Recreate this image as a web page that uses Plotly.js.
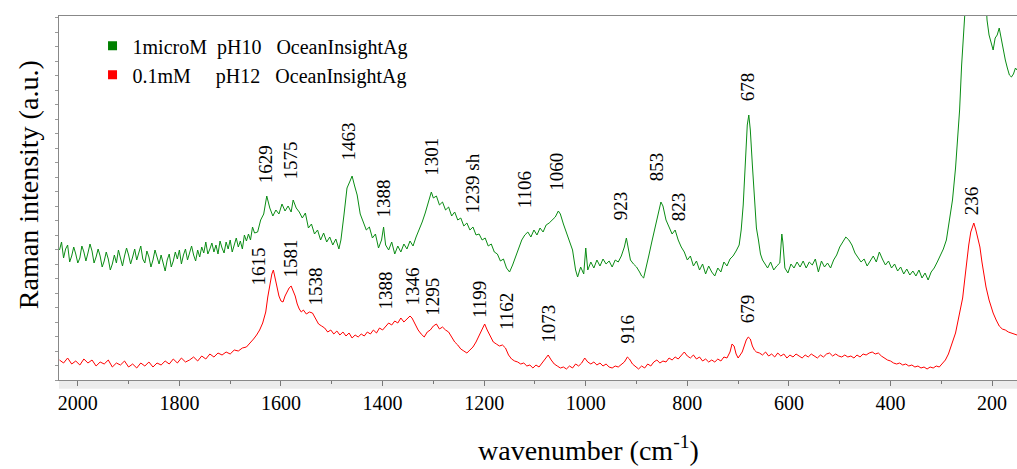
<!DOCTYPE html>
<html>
<head>
<meta charset="utf-8">
<script src="https://cdn.plot.ly/plotly-3.0.1.min.js"></script>
<style>html,body{margin:0;padding:0;background:#fff;}#chart{width:1017px;height:469px;}</style>
</head>
<body>
<div id="chart"></div>
<script>
// ---- data (wavenumber cm-1, intensity a.u.) ----
const greenName = "1microM\u00a0\u00a0pH10\u00a0\u00a0\u00a0OceanInsightAg";
const redName = "0.1mM\u00a0\u00a0\u00a0\u00a0\u00a0pH12\u00a0\u00a0\u00a0OceanInsightAg";

const greenWavenumber = [2036,2032,2028,2024,2020,2016,2012,2008,2004,2000,1996,1992,1988,1984,1980,1976,1972,1968,1964,1960,1956,1952,1948,1944,1940,1936,1932,1928,1924,1920,1916,1912,1908,1904,1900,1896,1892,1888,1884,1880,1876,1872,1868,1864,1860,1856,1852,1848,1844,1840,1836,1832,1828,1824,1820,1816,1812,1808,1804,1800,1796,1792,1788,1784,1780,1776,1772,1768,1764,1760,1756,1752,1748,1744,1740,1736,1732,1728,1724,1720,1716,1712,1708,1704,1700,1696,1692,1688,1684,1680,1676,1672,1668,1664,1660,1656,1652,
  1646,1640,1634,1628,1622,1616,1610,1604,1598,1592,1586,1580,1576,1570,1564,1558,1552,1546,1540,1534,1528,1522,1516,1510,1504,1498,1492,1486,1482,1476,1470,1464,1460,1455,1450,1444,1438,1432,1426,1420,1414,1408,1402,1398,1394,1388,1382,1376,1370,1364,1358,1352,1346,1340,1334,1328,1322,1316,1310,1304,1300,1294,1288,1282,1276,1270,1264,1258,1252,1246,1240,1234,1228,1222,1216,1210,1204,1198,1192,1186,1180,1174,1168,1162,1156,1150,1144,1138,1132,1126,1120,1114,1108,1102,1096,1090,1084,1078,1072,1066,1060,1054,1050,1044,1038,1032,1026,1020,1016,1010,1004,1000,996,990,984,978,972,966,960,954,948,942,936,930,924,920,916,912,906,900,894,890,886,882,876,870,864,858,852,848,842,836,830,824,818,812,806,800,794,788,782,776,770,764,758,752,746,740,734,728,722,716,710,704,698,694,690,686,682,679,676,672,668,664,660,656,652,648,642,636,630,624,618,614,612,608,602,596,590,584,578,572,566,560,554,548,542,536,530,524,518,512,506,500,494,488,482,476,470,464,458,452,446,440,434,428,422,416,410,404,398,392,386,380,374,368,362,356,350,344,338,332,326,320,314,308,302,296,290,284,278,272,268,264,260,256,252,240,225,214,210,206,202,198,194,190,186,182,178,174,170,166,162,158,154,151];
const greenIntensity = [130,138,122,131,135,118,124,133,126,117,122,134,128,119,127,136,129,117,123,131,124,113,119,128,121,110,116,125,117,130,122,114,124,132,125,116,123,131,120,128,134,121,117,129,123,113,120,130,124,116,125,118,109,120,126,113,119,128,121,130,116,125,131,120,126,134,125,119,130,123,133,127,138,126,131,137,128,135,126,139,132,127,138,131,140,128,135,142,133,139,131,145,139,146,140,153,147,
  148,160,166,184,172,164,170,166,176,169,174,168,180,172,168,162,167,152,156,146,150,140,147,138,143,135,141,131,140,165,192,199,204,194,185,166,158,150,153,142,146,132,140,153,135,130,138,126,134,128,136,131,139,134,143,150,158,167,178,188,182,184,175,178,170,173,164,168,160,162,154,157,150,153,145,146,140,142,134,136,128,126,119,121,112,108,115,124,131,140,145,148,143,150,145,152,148,155,157,160,163,169,166,156,148,140,130,110,103,113,106,132,110,118,112,120,114,121,116,119,113,120,118,124,133,142,130,120,116,113,108,104,102,110,124,138,152,164,178,174,160,153,146,150,140,133,128,120,124,114,119,110,116,106,114,108,104,112,108,118,114,121,124,129,135,150,175,215,255,265,250,215,178,152,140,126,120,117,112,118,110,114,117,146,138,112,107,116,112,118,113,119,112,118,115,121,108,119,113,117,112,120,125,133,138,143,140,135,127,122,118,121,114,119,124,118,128,121,115,119,112,116,109,113,106,111,105,109,104,110,102,107,100,108,112,118,124,131,140,158,180,212,240,270,315,350,380,440,440,400,360,345,338,330,342,345,352,340,330,320,312,305,303,306,312,310];

const redWavenumber = [2036,2028,2020,2012,2004,1996,1988,1980,1972,1964,1956,1948,1940,1932,1924,1916,1908,1900,1892,1884,1876,1868,1860,1852,1844,1836,1828,1820,1812,1804,1796,1788,1780,1772,1764,1756,1748,1740,1732,1724,1716,1708,1700,1692,1684,1676,1668,1660,1654,1648,1642,1636,1630,1626,1622,1618,1615,1612,1608,1604,1600,1596,1592,1588,1584,1580,1576,1572,1568,1564,1560,1556,1550,1544,1538,1532,1526,1520,1514,1508,1502,1496,1490,1484,1478,1472,1466,1460,1454,1448,1442,1436,1430,1424,1418,1412,1406,1400,1394,1388,1382,1376,1370,1364,1358,1352,1346,1342,1336,1330,1324,1318,1312,1306,1300,1294,1288,1282,1276,1270,1264,1258,1252,1246,1240,1234,1228,1222,1216,1210,1204,1199,1194,1188,1182,1176,1170,1164,1158,1152,1146,1140,1134,1128,1122,1116,1110,1104,1098,1092,1086,1080,1074,1068,1062,1056,1050,1044,1038,1032,1026,1020,1014,1008,1002,996,990,984,978,972,966,960,954,948,942,936,930,924,918,914,908,902,896,890,884,878,872,866,860,854,848,842,836,830,824,818,812,806,800,794,788,782,776,770,764,758,752,746,740,734,728,722,716,712,708,704,700,696,692,688,684,680,676,672,668,664,658,652,646,640,634,628,622,616,610,604,598,592,586,580,574,568,562,556,550,544,538,532,526,520,514,508,502,496,490,484,478,472,466,460,454,448,442,436,430,424,418,412,406,400,394,388,382,376,370,364,358,352,346,340,334,328,322,316,310,304,298,292,286,280,276,272,266,262,258,254,250,246,242,238,236,232,228,224,220,216,212,206,202,198,192,186,180,174,168,162,156,151];
const redIntensity = [20,17,22,16,19,15,21,17,20,14,18,16,20,13,17,15,19,13,16,12,17,14,18,13,17,15,19,16,21,17,22,18,20,23,19,24,21,26,23,27,25,28,26,30,29,32,33,37,41,45,50,57,68,83,96,106,110,102,92,84,79,78,84,88,92,94,89,84,76,71,68,70,66,68,67,62,56,54,52,48,50,46,49,45,48,44,47,42,45,43,46,44,48,46,50,47,52,50,54,57,55,59,57,62,58,61,64,62,56,50,46,43,48,50,54,56,51,53,50,48,43,38,35,31,29,27,30,33,38,45,52,56,50,44,38,36,34,35,32,25,21,19,18,16,17,14,15,12,15,13,17,20,25,20,16,14,12,13,11,14,12,16,14,17,22,18,16,18,15,17,14,16,13,12,14,13,16,18,23,21,16,13,11,14,12,16,14,18,20,17,19,18,22,20,23,21,25,28,24,22,25,21,23,19,21,18,20,18,21,19,23,22,28,36,34,26,22,25,28,34,40,43,41,34,30,28,27,25,28,24,26,23,27,24,26,22,25,23,26,24,22,25,23,26,24,22,25,23,26,27,24,26,24,23,25,23,24,22,25,23,26,25,27,28,26,27,24,22,20,19,17,16,17,15,16,14,15,13,14,12,13,11,13,12,14,13,16,20,26,35,41,47,62,72,82,100,120,135,148,155,157,150,142,133,118,106,93,80,73,67,60,54,51,50,48,47,46,45];

const greenPeakLabels = ["1629","1575","1463","1388","1301","1239 sh","1106","1060","923","853","823","678","236"];
const redPeakLabels = ["1615","1581","1538","1388","1346","1295","1199","1162","1073","916","679"];
const xTickValues = [2000,1800,1600,1400,1200,1000,800,600,400,200];

// ---- label placement (position of each rotated label's lower end) ----
const greenLabelPos = [[1631,196],[1583,199],[1469,218],[1400,161],[1305,203],[1223,166],[1120,171],[1059,188],[931,159],[860,198],[817,158],[681,278],[240,164]];
const redLabelPos = [[1646,93],[1583,101],[1534,73],[1396,69],[1343,73],[1303,63],[1209,61],[1156,49],[1075,36],[917,36],[681,56]];

const GREEN = "rgb(10,140,20)";
const RED = "#ff0000";
const SERIF = "Liberation Serif, Times New Roman, serif";

const traces = [
  {x: greenWavenumber, y: greenIntensity, type: "scatter", mode: "lines",
   line: {color: GREEN, width: 1}, name: greenName, showlegend: false, hoverinfo: "x+y"},
  {x: redWavenumber, y: redIntensity, type: "scatter", mode: "lines",
   line: {color: RED, width: 1}, name: redName, showlegend: false, hoverinfo: "x+y"},
  {x: [null], y: [null], type: "scatter", mode: "markers", name: greenName,
   marker: {symbol: "square", size: 9, color: "rgb(0,128,0)"}, showlegend: true},
  {x: [null], y: [null], type: "scatter", mode: "markers", name: redName,
   marker: {symbol: "square", size: 9, color: RED}, showlegend: true}
];

const annotations = [];
greenPeakLabels.forEach((t, i) => annotations.push({
  x: greenLabelPos[i][0], y: greenLabelPos[i][1], xref: "x", yref: "y", text: t,
  showarrow: false, textangle: -90, xanchor: "center", yanchor: "bottom",
  borderpad: 0, font: {family: SERIF, size: 19, color: "#000"}
}));
redPeakLabels.forEach((t, i) => annotations.push({
  x: redLabelPos[i][0], y: redLabelPos[i][1], xref: "x", yref: "y", text: t,
  showarrow: false, textangle: -90, xanchor: "center", yanchor: "bottom",
  borderpad: 0, font: {family: SERIF, size: 19, color: "#000"}
}));
annotations.push({
  text: "Raman intensity (a.u.)", xref: "paper", yref: "paper",
  x: -0.0324, y: 0.538, textangle: -90, showarrow: false,
  xanchor: "center", yanchor: "middle", font: {family: SERIF, size: 28, color: "#000"}
});
annotations.push({
  text: "wavenumber (cm<sup>-1</sup>)", xref: "paper", yref: "paper",
  x: 0.553, y: -0.187, showarrow: false,
  xanchor: "center", yanchor: "middle", font: {family: SERIF, size: 28, color: "#000"}
});

const layout = {
  width: 1017, height: 469,
  margin: {l: 59, r: 0, t: 16, b: 89, pad: 0},
  paper_bgcolor: "#fff", plot_bgcolor: "#fff",
  showlegend: true,
  legend: {x: 0.035, y: 0.972, xanchor: "left", yanchor: "top", bgcolor: "rgba(0,0,0,0)",
           borderwidth: 0, font: {family: SERIF, size: 20, color: "#000"}, itemwidth: 30,
           tracegroupgap: 0},
  xaxis: {
    range: [2037, 151], showgrid: false, zeroline: false,
    showline: true, linecolor: "#888", linewidth: 1.2, mirror: true,
    tickmode: "array", tickvals: xTickValues,
    ticks: "outside", ticklen: 5, tickcolor: "#777", tickwidth: 1,
    minor: {dtick: 100, tick0: 0, ticks: "outside", ticklen: 3, tickcolor: "#777", showgrid: false},
    tickfont: {family: SERIF, size: 20, color: "#000"}, ticklabelstandoff: 0
  },
  yaxis: {
    range: [0, 364], showgrid: false, zeroline: false,
    showline: true, linecolor: "#888", linewidth: 1.2,
    showticklabels: false, ticks: "outside", ticklen: 3, tickcolor: "#999",
    dtick: 14.5, tick0: 0
  },
  shapes: [{type: "rect", xref: "paper", yref: "paper", x0: 0, x1: 1,
            y0: -0.024, y1: 0, fillcolor: "#ececec", line: {width: 0}, layer: "below"}],
  annotations: annotations
};

Plotly.newPlot("chart", traces, layout, {staticPlot: true, displayModeBar: false});
</script>
</body>
</html>
